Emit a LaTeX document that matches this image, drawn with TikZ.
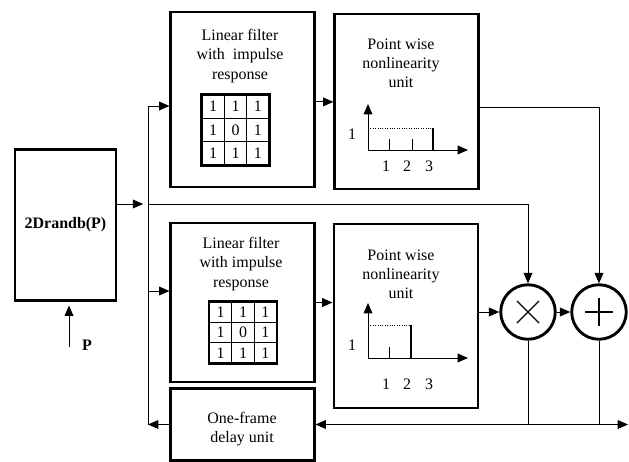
\documentclass[tikz,border=0pt]{standalone}
\usepackage{fontspec}
\setmainfont{Liberation Serif}
\usetikzlibrary{arrows.meta, matrix}

\begin{document}
\begin{tikzpicture}[x=0.022cm, y=-0.022cm,
        block/.style={draw, line width=1.8pt, inner sep=0pt},
        op/.style={draw, circle, line width=1.8pt, minimum size=1.2cm, inner sep=0pt},
        wire/.style={line width=0.6pt},
        link/.style={wire, -{Triangle[length=6.5pt,width=5.5pt]}},
        lbl/.style={align=center, inner sep=0pt},
        kern/.style={matrix of nodes, draw, line width=1.8pt, inner sep=0pt,
            column sep=-0.7pt, row sep=-0.7pt,
            nodes={draw, line width=0.7pt, minimum width=0.49cm, minimum height=#1, inner sep=0pt}}]
        % Fix the page size
        \useasboundingbox (0,0) rectangle (629,462);
        % Draw blocks
        \node[block, minimum width=2.22cm, minimum height=3.34cm] (rnd) at (65.5,225) {\textbf{2Drandb(P)}};
        \node[block, minimum width=3.15cm, minimum height=3.85cm] (filt1) at (242.5,99.5) {};
        \node[block, minimum width=3.15cm, minimum height=3.85cm] (nonlin1) at (406.5,101.5) {};
        \node[block, minimum width=3.15cm, minimum height=3.5cm] (filt2) at (242.5,302.5) {};
        \node[block, minimum width=3.17cm, minimum height=4.05cm] (nonlin2) at (406,316) {};
        \node[block, minimum width=3.15cm, minimum height=1.6cm] (delay) at (242.5,424.5) {};
        \node[op] (mul) at (528,312) {};
        \node[op] (add) at (599,312) {};
        % Draw block texts
        \node[lbl] (filt1txt) at (240,56) {Linear filter\\with~ impulse\\response};
        \node[lbl] (filt2txt) at (241,264) {Linear filter\\with impulse\\response};
        \node[lbl] (nonlin1txt) at (401,63) {Point wise\\nonlinearity\\unit};
        \node[lbl] (nonlin2txt) at (401,274) {Point wise\\nonlinearity\\unit};
        \node[lbl] (delaytxt) at (242,429) {One-frame\\delay unit};
        % Draw impulse responses
        \matrix (kern1) [kern=0.513cm] at (235.5,130) {1 & 1 & 1\\1 & 0 & 1\\1 & 1 & 1\\};
        \matrix (kern2) [kern=0.447cm] at (243,332.5) {1 & 1 & 1\\1 & 0 & 1\\1 & 1 & 1\\};
        % Draw top nonlinearity
        \draw[link] (368,150) -- (368,104);
        \draw[link] (368,150) -- (468,150);
        \draw[wire] (389,150) -- (389,139) (412,150) -- (412,139);
        \draw[line width=1.6pt] (433,150) -- (433,128);
        \draw[densely dotted, line width=0.5pt] (368,128) -- (433,128);
        \node (level1) at (352,134) {1};
        \foreach \v/\px in {1/386, 2/407, 3/429}
            \node (tickA\v) at (\px,166) {\v};
        % Draw bottom nonlinearity
        \draw[link] (368,358) -- (368,303);
        \draw[link] (368,358) -- (468,358);
        \draw[wire] (389,358) -- (389,347);
        \draw[line width=1.6pt] (411,358) -- (411,325);
        \draw[densely dotted, line width=0.5pt] (368,325) -- (411,325);
        \node (level2) at (352,345) {1};
        \foreach \v/\px in {1/386, 2/407, 3/429}
            \node (tickB\v) at (\px,384) {\v};
        % Draw operator signs
        \draw[line width=0.8pt] (mul.center) +(-11,-11) -- +(11,11) +(-11,11) -- +(11,-11);
        \draw[line width=0.8pt] (add.center) +(-14,0) -- +(14,0) +(0,-14) -- +(0,14);
        % Draw input
        \coordinate (pstart) at (69,347);
        \node[font=\bfseries] (plbl) at (87,345) {P};
        \draw[link, shorten >=2pt] (pstart) -- (pstart |- rnd.south);
        % Draw bus
        \coordinate (bustop) at (148,106);
        \coordinate (busmid) at (148,204);
        \coordinate (buslow) at (148,291);
        \coordinate (busbot) at (148,424.5);
        \coordinate (outend) at (628,424.5);
        \draw[wire] (bustop) -- (busbot);
        \draw[link, shorten >=3pt] (rnd.east |- busmid) -- (busmid);
        \draw[link] (bustop) -- (bustop -| filt1.west);
        \draw[link] (buslow) -- (buslow -| filt2.west);
        \draw[link] (delay.west) -- (busbot);
        % Draw forward connections
        \draw[link] (busmid) -| (mul.north);
        \draw[link] ([yshift=-1.5pt]filt1.east) -- ([yshift=-1.5pt]filt1.east -| nonlin1.west);
        \draw[link] ([yshift=-3.5pt]nonlin1.east) -| (add.north);
        \draw[link] (filt2.east) -- (filt2.east -| nonlin2.west);
        \draw[link] (mul.west -| nonlin2.east) -- (mul.west);
        \draw[link] (mul.east) -- (add.west);
        % Draw output and feedback
        \draw[wire] (mul.south) -- (mul.south |- outend);
        \draw[wire] (add.south) -- (add.south |- outend);
        \draw[wire, {Triangle[length=6.5pt,width=5.5pt]}-{Triangle[length=6.5pt,width=5.5pt]}] (delay.east) -- (outend);
    \end{tikzpicture}
\end{document}
